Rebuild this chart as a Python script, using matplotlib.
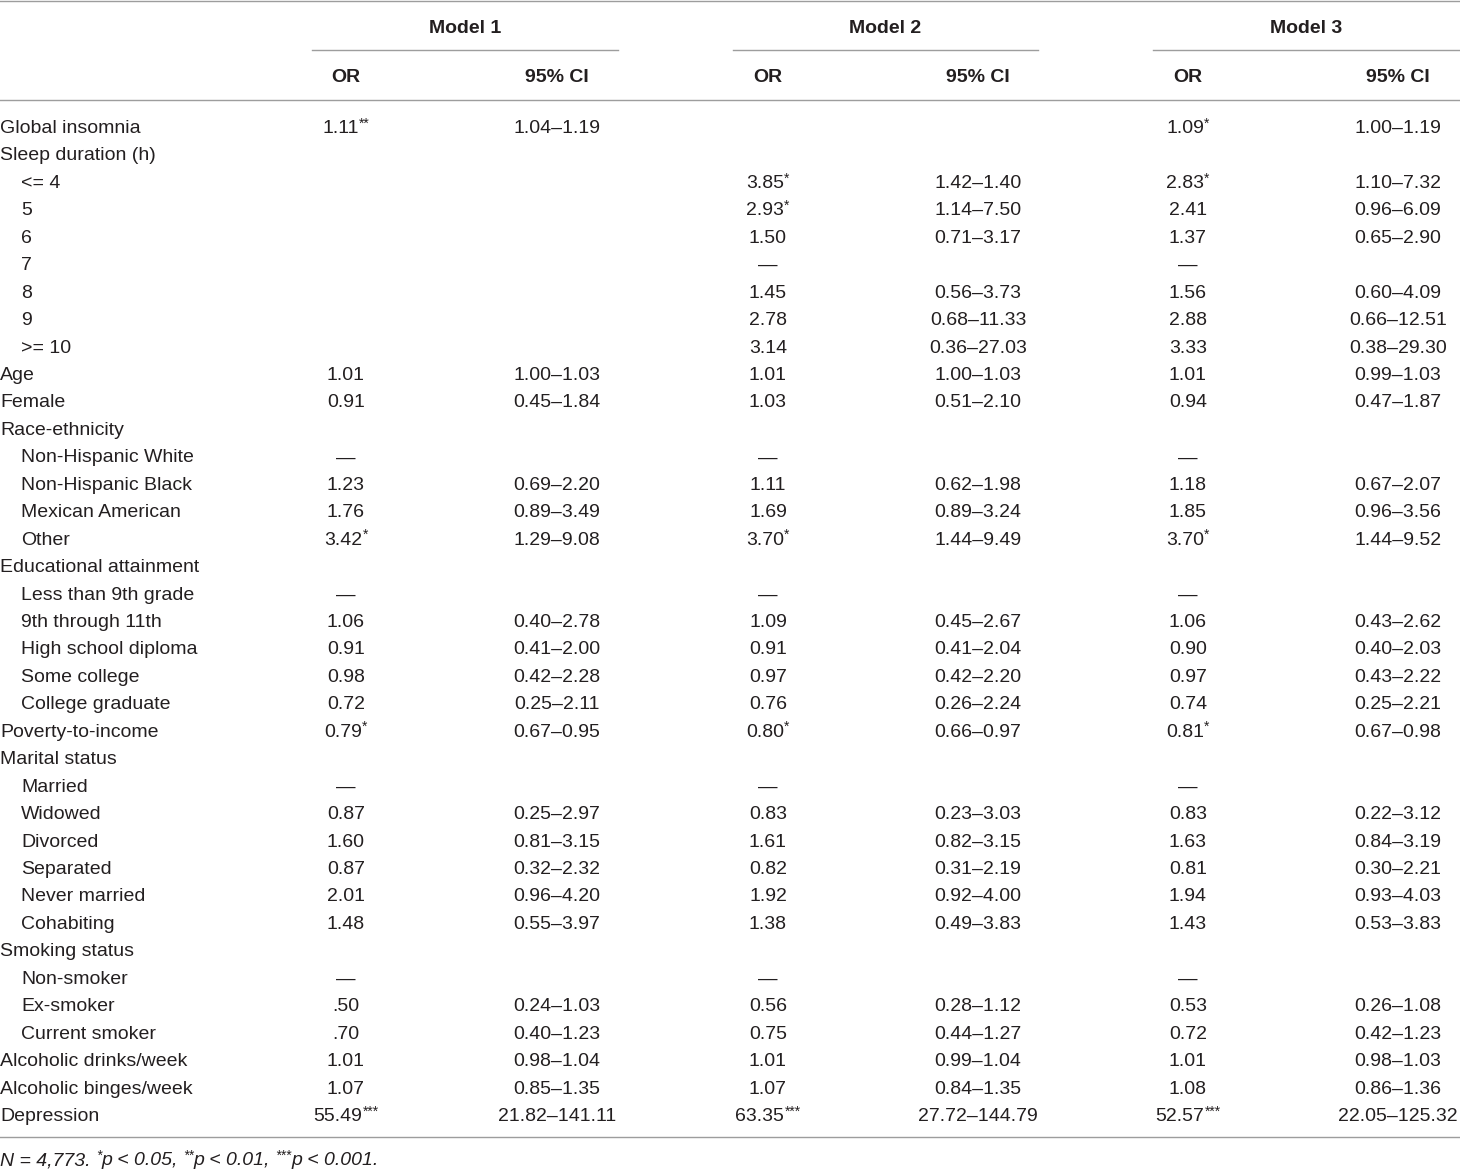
import matplotlib
matplotlib.use("Agg")
import matplotlib.pyplot as plt

# Table contents
labels = ["Global insomnia", "Sleep duration (h)", "<= 4", "5", "6", "7", "8", "9", ">= 10",
          "Age", "Female", "Race-ethnicity", "Non-Hispanic White", "Non-Hispanic Black",
          "Mexican American", "Other", "Educational attainment", "Less than 9th grade",
          "9th through 11th", "High school diploma", "Some college", "College graduate",
          "Poverty-to-income", "Marital status", "Married", "Widowed", "Divorced", "Separated",
          "Never married", "Cohabiting", "Smoking status", "Non-smoker", "Ex-smoker",
          "Current smoker", "Alcoholic drinks/week", "Alcoholic binges/week", "Depression"]
indent = [0, 0, 1, 1, 1, 1, 1, 1, 1,
          0, 0, 0, 1, 1,
          1, 1, 0, 1,
          1, 1, 1, 1,
          0, 0, 1, 1, 1, 1,
          1, 1, 0, 1, 1,
          1, 0, 0, 0]

m1_or = ["1.11**", "", "", "", "", "", "", "", "",
         "1.01", "0.91", "", "—", "1.23", "1.76", "3.42*", "", "—",
         "1.06", "0.91", "0.98", "0.72", "0.79*", "", "—", "0.87", "1.60", "0.87",
         "2.01", "1.48", "", "—", ".50", ".70", "1.01", "1.07", "55.49***"]
m1_ci = ["1.04–1.19", "", "", "", "", "", "", "", "",
         "1.00–1.03", "0.45–1.84", "", "", "0.69–2.20", "0.89–3.49", "1.29–9.08", "", "",
         "0.40–2.78", "0.41–2.00", "0.42–2.28", "0.25–2.11", "0.67–0.95", "", "", "0.25–2.97",
         "0.81–3.15", "0.32–2.32", "0.96–4.20", "0.55–3.97", "", "", "0.24–1.03", "0.40–1.23",
         "0.98–1.04", "0.85–1.35", "21.82–141.11"]

m2_or = ["", "", "3.85*", "2.93*", "1.50", "—", "1.45", "2.78", "3.14",
         "1.01", "1.03", "", "—", "1.11", "1.69", "3.70*", "", "—",
         "1.09", "0.91", "0.97", "0.76", "0.80*", "", "—", "0.83", "1.61", "0.82",
         "1.92", "1.38", "", "—", "0.56", "0.75", "1.01", "1.07", "63.35***"]
m2_ci = ["", "", "1.42–1.40", "1.14–7.50", "0.71–3.17", "", "0.56–3.73", "0.68–11.33", "0.36–27.03",
         "1.00–1.03", "0.51–2.10", "", "", "0.62–1.98", "0.89–3.24", "1.44–9.49", "", "",
         "0.45–2.67", "0.41–2.04", "0.42–2.20", "0.26–2.24", "0.66–0.97", "", "", "0.23–3.03",
         "0.82–3.15", "0.31–2.19", "0.92–4.00", "0.49–3.83", "", "", "0.28–1.12", "0.44–1.27",
         "0.99–1.04", "0.84–1.35", "27.72–144.79"]

m3_or = ["1.09*", "", "2.83*", "2.41", "1.37", "—", "1.56", "2.88", "3.33",
         "1.01", "0.94", "", "—", "1.18", "1.85", "3.70*", "", "—",
         "1.06", "0.90", "0.97", "0.74", "0.81*", "", "—", "0.83", "1.63", "0.81",
         "1.94", "1.43", "", "—", "0.53", "0.72", "1.01", "1.08", "52.57***"]
m3_ci = ["1.00–1.19", "", "1.10–7.32", "0.96–6.09", "0.65–2.90", "", "0.60–4.09", "0.66–12.51", "0.38–29.30",
         "0.99–1.03", "0.47–1.87", "", "", "0.67–2.07", "0.96–3.56", "1.44–9.52", "", "",
         "0.43–2.62", "0.40–2.03", "0.43–2.22", "0.25–2.21", "0.67–0.98", "", "", "0.22–3.12",
         "0.84–3.19", "0.30–2.21", "0.93–4.03", "0.53–3.83", "", "", "0.26–1.08", "0.42–1.23",
         "0.98–1.03", "0.86–1.36", "22.05–125.32"]

models = ["Model 1", "Model 2", "Model 3"]
columns = [m1_or, m1_ci, m2_or, m2_ci, m3_or, m3_ci]

FONT = "Liberation Sans"
TXT = "#231f20"
RULE = "#9d9d9d"
FS = 14

fig = plt.figure(figsize=(14.6, 11.69), dpi=100)
ax = fig.add_axes([0, 0, 1, 1])
ax.set_xlim(0, 1460)
ax.set_ylim(1169, 0)
ax.axis("off")
renderer = fig.canvas.get_renderer()


def pieces(x, y, parts, center=True, style="normal", weight="normal"):
    # parts: list of (text, superscript?) laid out side by side
    objs = []
    for s, sup in parts:
        if sup:
            t = ax.text(0, y - 5.5, s, fontsize=10, family=FONT, color=TXT,
                        style=style, va="baseline", ha="left")
        else:
            t = ax.text(0, y, s, fontsize=FS, family=FONT, color=TXT,
                        style=style, weight=weight, va="baseline", ha="left")
        objs.append(t)
    widths = [t.get_window_extent(renderer).width for t in objs]
    start = x - sum(widths) / 2 if center else x
    for t, w in zip(objs, widths):
        t.set_x(start)
        start += w


def split_stars(s):
    base = s.rstrip("*")
    parts = [(base, False)]
    if len(base) < len(s):
        parts.append((s[len(base):], True))
    return parts


# rules
ax.plot([0, 1460], [1, 1], color=RULE, lw=1.0)
ax.plot([0, 1460], [100, 100], color=RULE, lw=1.0)
ax.plot([0, 1460], [1137, 1137], color=RULE, lw=1.0)

spans = [(312, 618), (733, 1038), (1153, 1460)]
col_x = [346, 557, 768, 978, 1188, 1398]

for name, (a, b) in zip(models, spans):
    ax.plot([a, b], [50, 50], color=RULE, lw=1.0)
    ax.text((a + b) / 2, 33, name, fontsize=FS, family=FONT, weight="bold",
            color=TXT, ha="center", va="baseline")

for i, x in enumerate(col_x):
    ax.text(x, 82, "OR" if i % 2 == 0 else "95% CI", fontsize=FS, family=FONT,
            weight="bold", color=TXT, ha="center", va="baseline")

row0, step = 126, (1114 - 126) / 36
for r, lab in enumerate(labels):
    yb = row0 + r * step + 7
    ax.text(21 if indent[r] else 0, yb, lab, fontsize=FS, family=FONT,
            color=TXT, ha="left", va="baseline")
    for x, col in zip(col_x, columns):
        if col[r]:
            pieces(x, yb, split_stars(col[r]))

pieces(0, 1165, [("N = 4,773. ", False), ("*", True), ("p < 0.05, ", False),
                 ("**", True), ("p < 0.01, ", False), ("***", True),
                 ("p < 0.001.", False)], center=False, style="italic")

fig.savefig("out.png", dpi=100)
